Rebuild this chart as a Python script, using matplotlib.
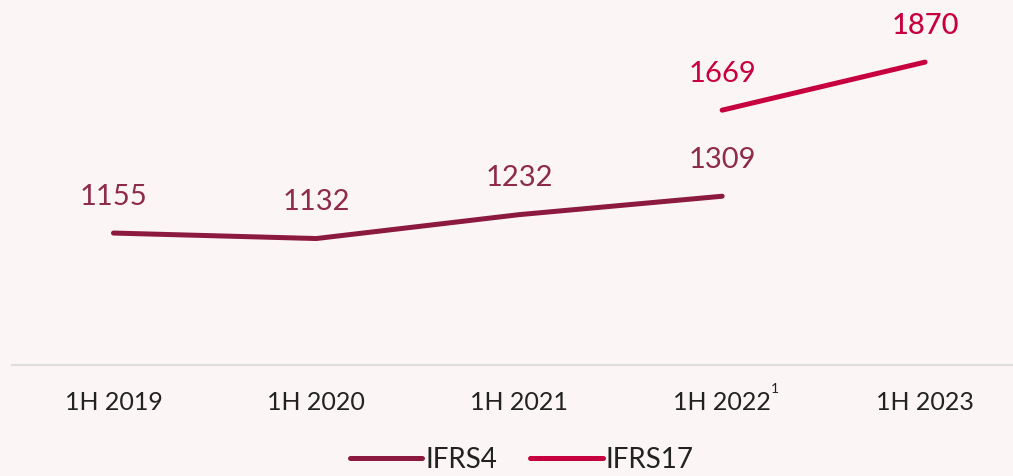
import numpy as np
import matplotlib.pyplot as plt
from matplotlib.transforms import offset_copy

# data
periods = ['1H 2019', '1H 2020', '1H 2021', '1H 2022', '1H 2023']
ifrs4 = [1155, 1132, 1232, 1309]
ifrs17 = [1669, 1870]
ifrs17_idx = [3, 4]

c4 = '#8c1a40'
c17 = '#c7003f'
bg = '#fbf5f5'

plt.rcParams['font.family'] = ['Lato', 'DejaVu Sans']

fig = plt.figure(figsize=(10.13, 4.77), dpi=100)
fig.patch.set_facecolor(bg)
ax = fig.add_axes([12 / 1013, 1 - 366 / 477, 1001 / 1013, 366 / 477])
ax.set_facecolor(bg)

x4 = np.arange(len(ifrs4))
ax.plot(x4, ifrs4, color=c4, lw=3.6, solid_capstyle='round', label='IFRS4')
ax.plot(ifrs17_idx, ifrs17, color=c17, lw=3.6, solid_capstyle='round', label='IFRS17')

# value labels
for i, v in zip(x4, ifrs4):
    ax.annotate(str(v), (i, v), xytext=(0, 27), textcoords='offset points',
                ha='center', va='center', fontsize=21, color='#8e2a4c')
for i, v in zip(ifrs17_idx, ifrs17):
    w = 'medium' if v == max(ifrs17) else 'normal'
    ax.annotate(str(v), (i, v), xytext=(0, 27), textcoords='offset points',
                ha='center', va='center', fontsize=21, fontweight=w, color=c17)

ax.set_xlim(-0.5, (1013 - 113) / 203)
ax.set_ylim(603, 2134)
ax.set_xticks(range(len(periods)))
ax.set_xticklabels(periods, fontsize=18, color='#222222')
ax.tick_params(axis='x', length=0, pad=18)
ax.set_yticks([])
for s in ['top', 'right', 'left']:
    ax.spines[s].set_visible(False)
ax.spines['bottom'].set_color('#dddddd')
ax.spines['bottom'].set_linewidth(1.5)

# footnote marker on 1H 2022
tr = offset_copy(ax.get_xaxis_transform(), fig=fig, x=35, y=-21, units='points')
ax.text(3, 0, '1', transform=tr, fontsize=10, color='#222222',
        ha='left', va='bottom')

leg = fig.legend(loc='center', bbox_to_anchor=(0.515, 0.035), ncol=2, frameon=False,
                 fontsize=20, handlelength=2.6, handletextpad=0.1, columnspacing=1.2,
                 borderpad=0)
for t in leg.get_texts():
    t.set_color('#222222')
for h in leg.legend_handles:
    h.set_solid_capstyle('round')

fig.savefig('out.png', dpi=100, facecolor=bg)
